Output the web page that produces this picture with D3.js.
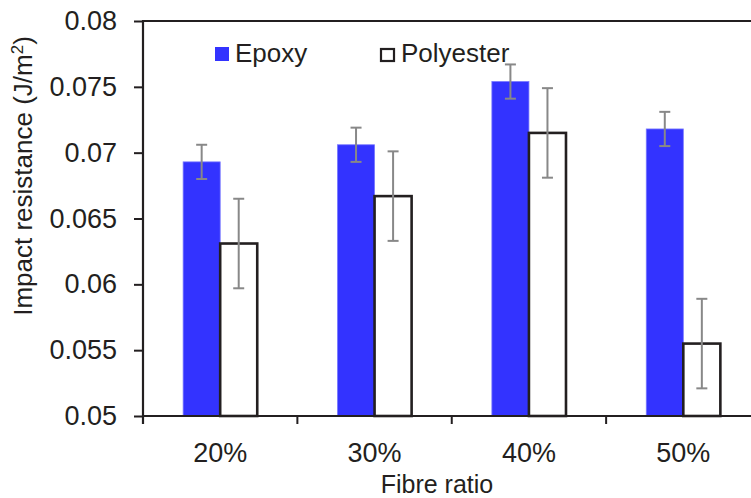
<!DOCTYPE html>
<html>
<head>
<meta charset="utf-8">
<script src="https://cdn.jsdelivr.net/npm/d3@7"></script>
<style>
  html, body { margin: 0; padding: 0; background: #fff; }
  svg { display: block; font-family: "Liberation Sans", Arial, Helvetica, sans-serif; }
</style>
</head>
<body>
<svg id="chart" width="751" height="498"></svg>
<script>
// Impact resistance by fibre ratio, epoxy vs polyester matrix
const categories = ["20%", "30%", "40%", "50%"];
const epoxy = [0.0693, 0.0706, 0.0754, 0.0718];
const epoxyErr = [0.0013, 0.0013, 0.0013, 0.0013];
const polyester = [0.0631, 0.0667, 0.0715, 0.0555];
const polyesterErr = [0.0034, 0.0034, 0.0034, 0.0034];
const yTicks = [0.05, 0.055, 0.06, 0.065, 0.07, 0.075, 0.08];
const yTickLabels = ["0.05", "0.055", "0.06", "0.065", "0.07", "0.075", "0.08"];
const seriesNames = ["Epoxy", "Polyester"];

const axisColor = "#231f20";
const epoxyColor = "#3333ff";
const errColor = "#888888";

const svg = d3.select("#chart");
const plotLeft = 143, plotTop = 21, plotBottom = 416, plotRight = 760.5;

const x = d3.scaleBand().domain(categories).range([plotLeft, plotRight]);
const y = d3.scaleLinear().domain([0.05, 0.08]).range([plotBottom, plotTop]);
const barW = x.bandwidth() * 0.24;

// bars
const groups = svg.append("g").selectAll("g")
  .data(categories)
  .join("g");

groups.append("rect")
  .attr("x", d => x(d) + x.bandwidth() / 2 - barW)
  .attr("y", (d, i) => y(epoxy[i]))
  .attr("width", barW)
  .attr("height", (d, i) => y(0.05) - y(epoxy[i]))
  .attr("fill", epoxyColor)
  .attr("stroke", "#7777ff")
  .attr("stroke-width", 0.8);

groups.append("rect")
  .attr("x", d => x(d) + x.bandwidth() / 2)
  .attr("y", (d, i) => y(polyester[i]))
  .attr("width", barW)
  .attr("height", (d, i) => y(0.05) - y(polyester[i]))
  .attr("fill", "#ffffff")
  .attr("stroke", axisColor)
  .attr("stroke-width", 2.6);

// error bars
function errorBars(vals, errs, offset) {
  const g = svg.append("g").attr("stroke", errColor).attr("stroke-width", 2).attr("fill", "none");
  categories.forEach((c, i) => {
    const cx = x(c) + x.bandwidth() / 2 + offset;
    const y1 = y(vals[i] + errs[i]), y0 = y(vals[i] - errs[i]);
    g.append("line").attr("x1", cx).attr("x2", cx).attr("y1", y1).attr("y2", y0);
    g.append("line").attr("x1", cx - 5.5).attr("x2", cx + 5.5).attr("y1", y1).attr("y2", y1);
    g.append("line").attr("x1", cx - 5.5).attr("x2", cx + 5.5).attr("y1", y0).attr("y2", y0);
  });
}
errorBars(epoxy, epoxyErr, -barW / 2);
errorBars(polyester, polyesterErr, barW / 2);

// frame top line
svg.append("line")
  .attr("x1", plotLeft).attr("x2", plotRight)
  .attr("y1", y(0.08)).attr("y2", y(0.08))
  .attr("stroke", axisColor).attr("stroke-width", 2);

// y axis
const yAxis = d3.axisLeft(y)
  .tickValues(yTicks)
  .tickFormat((d, i) => yTickLabels[i])
  .tickSize(9)
  .tickPadding(17);
const gy = svg.append("g").attr("transform", `translate(${plotLeft},0)`).call(yAxis);
gy.select(".domain").remove();
gy.append("line").attr("x1", 0).attr("x2", 0).attr("y1", plotTop - 1).attr("y2", plotBottom + 8)
  .attr("stroke", axisColor).attr("stroke-width", 2.2);
gy.selectAll(".tick line").attr("stroke", axisColor).attr("stroke-width", 2);
gy.selectAll(".tick text")
  .attr("fill", axisColor)
  .style("font-size", "27px")
  .style("font-family", "'Liberation Sans', Arial, sans-serif");

// x axis: boundary ticks below the axis, category labels centred in bands
const gx = svg.append("g");
gx.append("line").attr("x1", plotLeft).attr("x2", plotRight).attr("y1", plotBottom).attr("y2", plotBottom)
  .attr("stroke", axisColor).attr("stroke-width", 2.2);
const boundaries = categories.map(c => x(c)).concat([x.range()[1]]);
gx.selectAll("line.bt").data(boundaries).join("line")
  .attr("class", "bt")
  .attr("x1", d => d).attr("x2", d => d)
  .attr("y1", plotBottom).attr("y2", plotBottom + 8)
  .attr("stroke", axisColor).attr("stroke-width", 2);
gx.selectAll("text").data(categories).join("text")
  .attr("x", d => x(d) + x.bandwidth() / 2)
  .attr("y", 462)
  .attr("text-anchor", "middle")
  .attr("fill", axisColor)
  .style("font-size", "27px")
  .text(d => d);

// axis titles
svg.append("text")
  .attr("x", 437).attr("y", 493)
  .attr("text-anchor", "middle")
  .attr("fill", axisColor)
  .style("font-size", "25px")
  .text("Fibre ratio");

const yt = svg.append("text")
  .attr("transform", "translate(32,176) rotate(-90)")
  .attr("text-anchor", "middle")
  .attr("fill", axisColor)
  .style("font-size", "26px");
yt.append("tspan").text("Impact resistance (J/m");
yt.append("tspan").attr("dy", -9).style("font-size", "17px").text("2");
yt.append("tspan").attr("dy", 9).text(")");

// legend
const legend = svg.append("g");
legend.append("rect").attr("x", 215).attr("y", 47).attr("width", 14).attr("height", 14)
  .attr("fill", epoxyColor);
legend.append("text").attr("x", 235).attr("y", 62).attr("fill", axisColor)
  .style("font-size", "26px").text(seriesNames[0]);
legend.append("rect").attr("x", 381).attr("y", 49).attr("width", 13).attr("height", 12)
  .attr("fill", "#fff").attr("stroke", axisColor).attr("stroke-width", 2.2);
legend.append("text").attr("x", 401).attr("y", 62).attr("fill", axisColor)
  .style("font-size", "26px").text(seriesNames[1]);
</script>
</body>
</html>
